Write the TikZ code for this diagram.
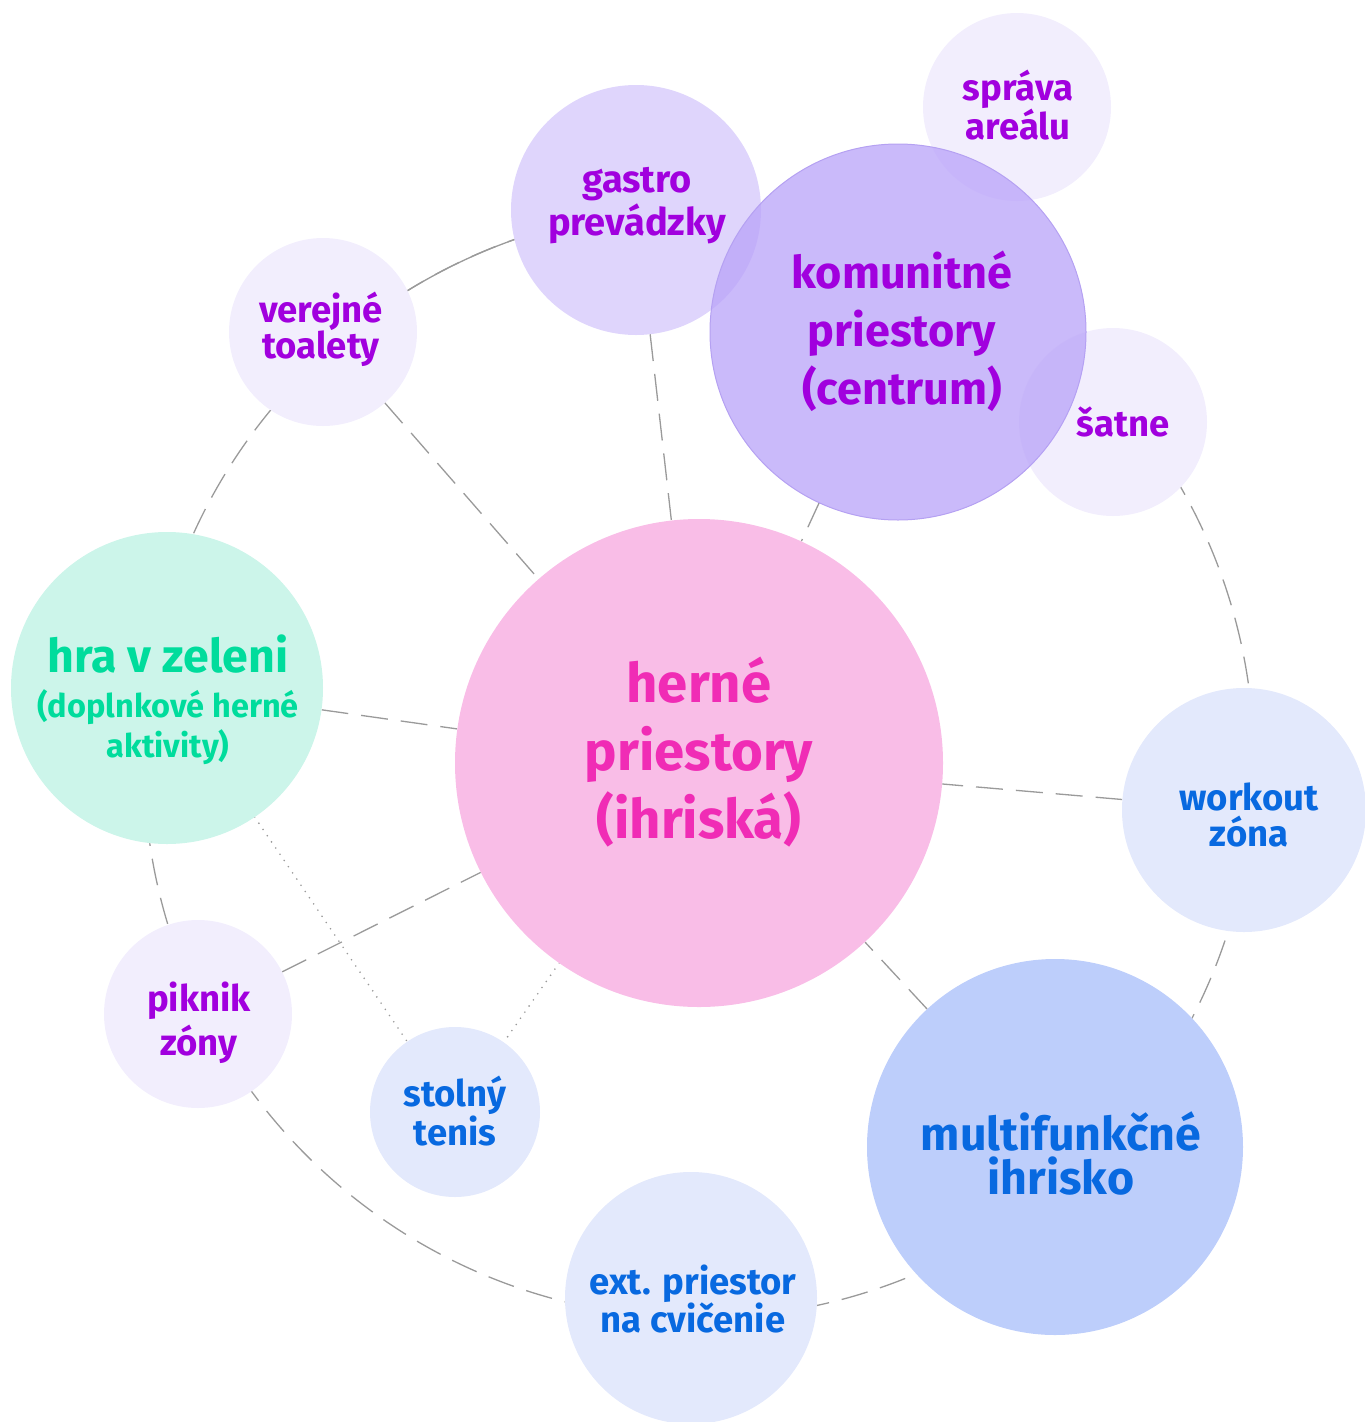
\documentclass[tikz,border=0pt]{standalone}
\usepackage{fontspec}
\setmainfont{Fira Sans}
\definecolor{linegray}{HTML}{9A9A9A}
\definecolor{purpbase}{HTML}{B9A3F9}
\definecolor{pinkfill}{HTML}{F9BDE7}
\definecolor{greenfill}{HTML}{CCF5EA}
\definecolor{bluelight}{HTML}{E3E9FC}
\definecolor{bluemid}{HTML}{BDCEFB}
\definecolor{komborder}{HTML}{B5A1F2}
\definecolor{txtpurple}{HTML}{A100DE}
\definecolor{txtblue}{HTML}{0869E0}
\definecolor{txtpink}{HTML}{F02CB5}
\definecolor{txtgreen}{HTML}{00DC9C}
\tikzset{
  spot/.style={circle, inner sep=0pt, outer sep=0pt},
  link/.style={draw=linegray, line width=1.3pt, dash pattern=on 27pt off 13pt},
  solidlink/.style={draw=linegray, line width=1.3pt},
  dotlink/.style={draw=linegray, line width=1.8pt, line cap=round, dash pattern=on 0pt off 7.5pt},
  lbl/.style={align=center, inner sep=0pt, font=\bfseries\fontsize{36.5}{36}\selectfont},
}
\begin{document}
\begin{tikzpicture}[x=1pt, y=-1pt]
\useasboundingbox (0,0) rectangle (1365,1422);
% node positions
\node[spot, minimum size=488pt] (herne) at (699,763) {};
\node[spot, minimum size=376pt] (komun) at (898,332) {};
\node[spot, minimum size=250pt] (gastro) at (636,210) {};
\node[spot, minimum size=188pt] (sprava) at (1017,107) {};
\node[spot, minimum size=188pt] (satne) at (1113,422) {};
\node[spot, minimum size=188pt] (verej) at (323,332) {};
\node[spot, minimum size=312pt] (hra) at (167,688) {};
\node[spot, minimum size=188pt] (piknik) at (198,1014) {};
\node[spot, minimum size=170pt] (stolny) at (455,1112) {};
\node[spot, minimum size=244pt] (workout) at (1244,810) {};
\node[spot, minimum size=376pt] (multi) at (1055,1147) {};
\node[spot, minimum size=252pt] (ext) at (691,1298) {};
\node[spot, minimum size=1110pt] (ring) at (herne.center) {};
% outer ring
\draw[link] (herne.center) circle[radius=555pt];
\draw[solidlink] (ring.108) arc[start angle=108, end angle=123, radius=555pt];
% connectors
\draw[link] (verej) -- (herne);
\draw[link] (gastro) -- (herne);
\draw[link] (komun) -- (herne);
\draw[link] (hra) -- (herne);
\draw[link] (piknik) -- (herne);
\draw[link] (workout) -- (herne);
\draw[link] (multi) -- (herne);
\draw[dotlink] (hra) -- (stolny);
\draw[dotlink] (herne) -- (stolny);
% white underlays
\foreach \n/\r in {herne/244, komun/188, gastro/125, sprava/94, satne/94, verej/94, hra/156, piknik/94, stolny/85, workout/122, multi/188, ext/126}
  \fill[white] (\n.center) circle[radius=\r pt];
% coloured fills
\fill[pinkfill] (herne.center) circle[radius=244pt];
\fill[greenfill] (hra.center) circle[radius=156pt];
\fill[bluelight] (stolny.center) circle[radius=85pt];
\fill[bluelight] (workout.center) circle[radius=122pt];
\fill[bluelight] (ext.center) circle[radius=126pt];
\fill[bluemid] (multi.center) circle[radius=188pt];
\fill[purpbase, fill opacity=0.18] (verej.center) circle[radius=94pt];
\fill[purpbase, fill opacity=0.18] (piknik.center) circle[radius=94pt];
\fill[purpbase, fill opacity=0.18] (sprava.center) circle[radius=94pt];
\fill[purpbase, fill opacity=0.45] (gastro.center) circle[radius=125pt];
\filldraw[fill=purpbase, draw=komborder, line width=1pt, fill opacity=0.75] (komun.center) circle[radius=188pt];
\fill[purpbase, fill opacity=0.18] (satne.center) circle[radius=94pt];
% labels
\node[lbl, text=txtpink, font=\bfseries\fontsize{54.5}{68}\selectfont] (therne) at (699,752) {herné\\priestory\\(ihriská)};
\node[lbl, text=txtpurple, font=\bfseries\fontsize{45}{58}\selectfont] (tkomun) at (902,331) {komunitné\\priestory\\(centrum)};
\node[lbl, text=txtpurple, font=\bfseries\fontsize{38}{43}\selectfont] (tgastro) at (637,206) {gastro\\prevádzky};
\node[lbl, text=txtpurple] (tsprava) at (1018,105) {správa\\areálu};
\node[lbl, text=txtpurple] (tsatne) at (1123,422) {šatne};
\node[lbl, text=txtpurple] (tverej) at (321,329) {verejné\\toalety};
\node[lbl, text=txtgreen, font=\bfseries\fontsize{46.5}{48}\selectfont] (thra) at (168,654) {hra v zeleni};
\node[lbl, text=txtgreen, font=\bfseries\fontsize{32.5}{40}\selectfont] (thra2) at (168,727) {(doplnkové herné\\aktivity)};
\node[lbl, text=txtpurple, font=\bfseries\fontsize{36.5}{44}\selectfont] (tpiknik) at (199,1023) {piknik\\zóny};
\node[lbl, text=txtblue] (tstolny) at (455,1111) {stolný\\tenis};
\node[lbl, text=txtblue] (tworkout) at (1249,815) {workout\\zóna};
\node[lbl, text=txtblue, font=\bfseries\fontsize{46.5}{44}\selectfont] (tmulti) at (1061,1153) {multifunkčné\\ihrisko};
\node[lbl, text=txtblue] (text) at (693,1299) {ext. priestor\\na cvičenie};
\end{tikzpicture}
\end{document}
